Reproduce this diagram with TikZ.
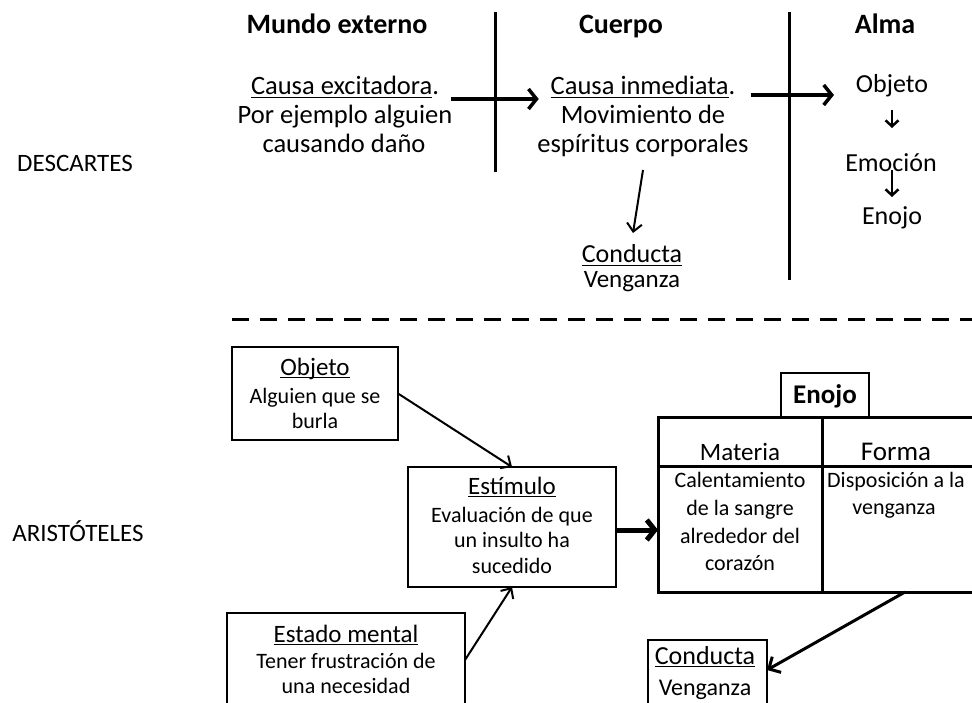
\documentclass[tikz,border=0pt]{standalone}
\usepackage{fontspec}
\setmainfont{Carlito}
\usetikzlibrary{arrows.meta,calc}
\newcommand{\myul}[1]{\setbox0=\hbox{#1}\rlap{\rule[-0.13em]{\wd0}{0.06em}}\box0}
\begin{document}
\begin{tikzpicture}[x=1pt,y=-1pt,
  t/.style={inner sep=0pt,outer sep=0pt,anchor=base},
  hdr/.style={t,font=\fontsize{28}{30}\selectfont\bfseries},
  txt/.style={t,font=\fontsize{26.5}{30}\selectfont},
  alm/.style={t,font=\fontsize{26}{30}\selectfont},
  side/.style={t,font=\fontsize{25}{28}\selectfont},
  btitle/.style={t,font=\fontsize{25}{28}\selectfont},
  btxt/.style={t,font=\fontsize{22}{26}\selectfont},
  ctxt/.style={t,font=\fontsize{22}{27}\selectfont},
  box/.style={draw,line width=1.3pt,inner sep=0pt,outer sep=0pt},
  vline/.style={line width=3pt},
  bigarr/.style={line width=3.5pt,-{Straight Barb[length=8pt,width=20pt]}},
  smallarr/.style={line width=2.5pt,-{Straight Barb[length=6pt,width=13pt]}},
  thinarr/.style={line width=2pt,-{Straight Barb[length=8pt,width=15pt]}},
]
\useasboundingbox (0,0) rectangle (972,703);
\clip (0,0) rectangle (972,703);

% ---------- DESCARTES ----------
\node[hdr] (mundo) at (337,34) {Mundo externo};
\node[hdr] (cuerpo) at (621,34) {Cuerpo};
\node[hdr] (alma) at (885,34) {Alma};

\node[txt] (ce) at (345,95) {\myul{Causa excitadora}.};
\node[txt] (ced1) at (345,124) {Por ejemplo alguien};
\node[txt] (ced2) at (344,153) {causando daño};
\node[txt] (ci) at (643,95) {\myul{Causa inmediata}.};
\node[txt] (cid1) at (643,124) {Movimiento de};
\node[txt] (cid2) at (643,153) {espíritus corporales};
\node[txt,font=\fontsize{26}{30}\selectfont] (condA) at (632,263) {\myul{Conducta}};
\node[txt,font=\fontsize{25}{30}\selectfont] (venA) at (632,288) {Venganza};

\node[alm] (objA) at (892,93) {Objeto};
\node[alm] (emo) at (891,172) {Emoción};
\node[alm] (enA) at (892,225) {Enojo};

\node[side] (desc) at (75,172) {DESCARTES};

\draw[vline] (495,12) -- (495,172);
\draw[vline] (789,12) -- (789,280);

\draw[bigarr] ($(ce.base east)+(12,4)$) -- ($(ci.base west)+(-12,4)$);
\draw[bigarr] ($(ci.base east)+(16,0)$) -- ($(objA.base west)+(-22,2)$);
\draw[smallarr] ($(objA.base)+(0,17)$) -- ($(emo.base)+(1,-44)$);
\draw[smallarr] ($(emo.base)+(1,-2)$) -- ($(enA.base)+(0,-28)$);
\draw[thinarr] ($(cid2.base)+(0,17)$) -- ($(condA.base)+(1,-30)$);

% separator
\draw[line width=3pt,dash pattern=on 17pt off 11pt] (232,320) -- (972,320);

% ---------- ARISTOTELES ----------
\node[side] (aris) at (78,541) {ARISTÓTELES};

\node[box,minimum width=166,minimum height=93,anchor=north west] (obj) at (232,347) {};
\node[btitle] (objT) at (315,375) {\myul{Objeto}};
\node[btxt] (objL1) at (315,403) {Alguien que se};
\node[btxt] (objL2) at (315,428) {burla};

\node[box,minimum width=208,minimum height=120,anchor=north west] (est) at (408,467) {};
\node[btitle] (estT) at (512,494) {\myul{Estímulo}};
\node[btxt] (estL1) at (512,522) {Evaluación de que};
\node[btxt] (estL2) at (512,547) {un insulto ha};
\node[btxt] (estL3) at (512,573) {sucedido};

\node[box,minimum width=238,minimum height=100,anchor=north west] (estado) at (227,613) {};
\node[btitle] (estadoT) at (346,642) {\myul{Estado mental}};
\node[btxt] (estadoL1) at (346,668) {Tener frustración de};
\node[btxt] (estadoL2) at (346,693) {una necesidad};

\node[box,minimum width=119,minimum height=80,anchor=north west] (condB) at (648,640) {};
\node[btitle,font=\fontsize{26}{30}\selectfont] (condBT) at (705,664) {\myul{Conducta}};
\node[btitle,font=\fontsize{24}{30}\selectfont] (condBL) at (705,695) {Venganza};

% table
\node[draw,line width=3pt,inner sep=0pt,outer sep=0pt,minimum width=330,minimum height=175,anchor=north west] (tabla) at (658,417) {};
\draw[line width=3pt] (822,417) -- (822,592);
\draw[line width=3pt] (658,466) -- (990,466);
\node[draw,line width=1.5pt,inner sep=0pt,outer sep=0pt,minimum width=88,minimum height=44,anchor=south west] (tab) at (781,417) {};
\node[t,font=\fontsize{27}{30}\selectfont\bfseries] (enB) at (825,403) {Enojo};
\node[t,font=\fontsize{25}{30}\selectfont] (mat) at (740,460) {Materia};
\node[t,font=\fontsize{27}{30}\selectfont] (forma) at (896,460) {Forma};
\node[ctxt] (m1) at (740,487) {Calentamiento};
\node[ctxt] (m2) at (740,515) {de la sangre};
\node[ctxt] (m3) at (740,543) {alrededor del};
\node[ctxt] (m4) at (740,570) {corazón};
\node[ctxt] (f1) at (896,487) {Disposición a la};
\node[ctxt] (f2) at (894,514) {venganza};

\draw[thinarr] (obj.east) -- (est.north);
\draw[thinarr] ($(estado.north east)+(0,47)$) -- (est.south);
\draw[line width=5pt,-{Straight Barb[length=8pt,width=20pt]}] ($(est.east)+(0,3)$) -- ($(est.east -| tabla.west)+(0,3)$);
\draw[line width=3pt,-{Straight Barb[length=9pt,width=18pt]}] ($(tabla.south west)+(247,0)$) -- ($(condB.north east)+(0,30)$);
\end{tikzpicture}
\end{document}
